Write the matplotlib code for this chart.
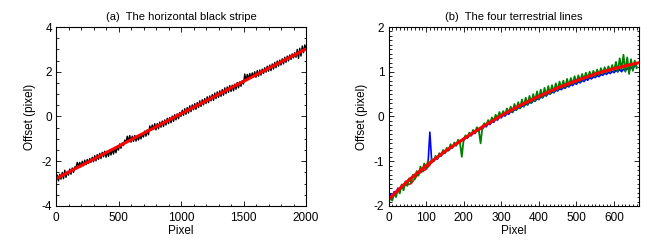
import numpy as np
import matplotlib
matplotlib.use("Agg")
import matplotlib.pyplot as plt
from matplotlib.ticker import MultipleLocator

plt.rcParams['font.family'] = ['Liberation Sans', 'DejaVu Sans']
plt.rcParams['axes.unicode_minus'] = False

# ---- Panel (a) data ----
a_step = 10
a_black = [-2.95, -2.62, -2.88, -2.58, -2.80, -2.50, -2.78, -2.40, -2.72, -2.45,
           -2.62, -2.35, -2.58, -2.30, -2.50, -2.25, -2.28, -2.05, -2.22, -2.05,
           -2.25, -2.00, -2.20, -1.95, -2.15, -1.92, -2.10, -1.88, -2.05, -1.82,
           -2.02, -1.75, -1.98, -1.70, -1.92, -1.65, -1.88, -1.60, -1.80, -1.55,
           -1.82, -1.55, -1.78, -1.50, -1.72, -1.45, -1.68, -1.42, -1.62, -1.35,
           -1.50, -1.22, -1.42, -1.18, -1.30, -1.05, -1.15, -0.88, -1.10, -0.85,
           -1.15, -0.88, -1.12, -0.85, -1.10, -0.90, -1.05, -0.85, -1.00, -0.80,
           -0.92, -0.65, -0.88, -0.60, -0.82, -0.42, -0.62, -0.38, -0.58, -0.32,
           -0.60, -0.32, -0.55, -0.25, -0.48, -0.20, -0.45, -0.15, -0.38, -0.08,
           -0.32, -0.05, -0.28, 0.02, -0.22, 0.08, -0.15, 0.12, -0.10, 0.18,
           0.00, 0.28, 0.05, 0.35, 0.10, 0.40, 0.15, 0.48, 0.22, 0.52,
           0.30, 0.58, 0.32, 0.62, 0.40, 0.70, 0.45, 0.75, 0.52, 0.80,
           0.58, 0.88, 0.62, 0.92, 0.70, 0.98, 0.72, 1.05, 0.80, 1.10,
           0.85, 1.15, 0.90, 1.20, 0.95, 1.28, 1.02, 1.32, 1.08, 1.38,
           1.12, 1.40, 1.15, 1.45, 1.22, 1.52, 1.28, 1.55, 1.35, 1.60,
           1.45, 1.90, 1.60, 1.88, 1.68, 1.92, 1.72, 1.95, 1.78, 2.00,
           1.75, 2.05, 1.80, 2.08, 1.85, 2.12, 1.92, 2.18, 1.98, 2.25,
           2.02, 2.30, 2.05, 2.35, 2.12, 2.42, 2.18, 2.48, 2.25, 2.52,
           2.30, 2.58, 2.35, 2.65, 2.42, 2.70, 2.48, 2.75, 2.55, 2.80,
           2.62, 2.85, 2.65, 3.00, 2.60, 3.05, 2.70, 3.15, 2.85, 3.20,
           3.05]
a_fit_x = [0, 2000]
a_fit_y = [-2.78, 3.02]

# ---- Panel (b) data ----
b_step = 5
b_green = [-1.95, -1.80, -1.88, -1.72, -1.80, -1.62, -1.72, -1.52, -1.65, -1.45,
           -1.55, -1.38, -1.48, -1.30, -1.40, -1.22, -1.32, -1.12, -1.22, -1.05,
           -1.15, -1.00, -1.08, -0.95, -1.00, -0.88, -0.95, -0.82, -0.88, -0.75,
           -0.82, -0.70, -0.76, -0.62, -0.70, -0.58, -0.65, -0.52, -0.58, -0.90,
           -0.50, -0.42, -0.48, -0.36, -0.42, -0.30, -0.36, -0.24, -0.30, -0.60,
           -0.22, -0.15, -0.20, -0.08, -0.15, -0.02, -0.10, 0.04, -0.04, 0.10,
           0.00, 0.12, 0.04, 0.18, 0.08, 0.22, 0.10, 0.28, 0.14, 0.32,
           0.18, 0.38, 0.22, 0.42, 0.26, 0.46, 0.30, 0.50, 0.34, 0.56,
           0.38, 0.60, 0.42, 0.64, 0.46, 0.68, 0.50, 0.70, 0.54, 0.74,
           0.58, 0.78, 0.62, 0.80, 0.64, 0.84, 0.68, 0.86, 0.72, 0.90,
           0.75, 0.92, 0.78, 0.95, 0.82, 0.98, 0.85, 1.00, 0.88, 1.02,
           0.90, 1.05, 0.92, 1.08, 0.95, 1.10, 0.98, 1.12, 1.00, 1.15,
           1.02, 1.22, 1.00, 1.30, 1.05, 1.38, 1.00, 1.32, 0.95, 1.28,
           1.02, 1.25, 1.08]
b_blue = [-1.80, -1.74, -1.79, -1.68, -1.70, -1.60, -1.63, -1.54, -1.56, -1.47,
          -1.49, -1.40, -1.42, -1.33, -1.35, -1.27, -1.28, -1.20, -1.22, -1.13,
          -1.15, -1.08, -0.35, -1.02, -1.00, -0.93, -0.95, -0.87, -0.88, -0.81,
          -0.82, -0.75, -0.76, -0.69, -0.70, -0.63, -0.65, -0.58, -0.59, -0.52,
          -0.54, -0.47, -0.48, -0.41, -0.43, -0.36, -0.38, -0.31, -0.33, -0.26,
          -0.28, -0.21, -0.23, -0.16, -0.18, -0.11, -0.13, -0.06, -0.08, -0.01,
          -0.03, 0.03, 0.01, 0.07, 0.05, 0.12, 0.09, 0.16, 0.14, 0.20,
          0.18, 0.24, 0.22, 0.28, 0.26, 0.32, 0.30, 0.36, 0.34, 0.40,
          0.38, 0.44, 0.42, 0.48, 0.46, 0.52, 0.50, 0.55, 0.53, 0.59,
          0.57, 0.62, 0.60, 0.65, 0.63, 0.69, 0.66, 0.72, 0.69, 0.75,
          0.72, 0.78, 0.75, 0.81, 0.78, 0.84, 0.81, 0.87, 0.84, 0.89,
          0.87, 0.92, 0.89, 0.94, 0.92, 0.97, 0.94, 0.99, 0.96, 1.01,
          0.98, 1.03, 1.00, 1.05, 1.00, 1.06, 1.02, 1.08, 1.03, 1.10,
          1.06, 1.14, 1.12]
b_red_step = 20
b_red = [-1.82, -1.72, -1.55, -1.50, -1.28, -1.18, -0.98, -0.86, -0.74, -0.60,
         -0.52, -0.38, -0.30, -0.17, -0.06, 0.04, 0.13, 0.20, 0.30, 0.36,
         0.46, 0.52, 0.62, 0.66, 0.76, 0.78, 0.88, 0.91, 0.99, 1.01,
         1.08, 1.10, 1.16, 1.18]
b_fit_x = [0, 50, 100, 150, 200, 250, 300, 350, 400, 450, 500, 550, 600, 650, 665]
b_fit_y = [-1.85, -1.45, -1.10, -0.78, -0.50, -0.23, 0.02, 0.25, 0.45, 0.64,
           0.80, 0.95, 1.07, 1.17, 1.20]

fig = plt.figure(figsize=(6.65, 2.4), dpi=100)
ax1 = fig.add_axes([56/665, 1-206/240, 250/665, 179/240])
ax2 = fig.add_axes([388.5/665, 1-206/240, 250/665, 179/240])

ax1.plot(np.arange(len(a_black))*a_step, a_black, color='black', lw=1.0)
ax1.plot(a_fit_x, a_fit_y, color='red', lw=2.2)
ax1.set_xlim(0, 2000)
ax1.set_ylim(-4, 4)
ax1.xaxis.set_major_locator(MultipleLocator(500))
ax1.xaxis.set_minor_locator(MultipleLocator(100))
ax1.yaxis.set_major_locator(MultipleLocator(2))
ax1.yaxis.set_minor_locator(MultipleLocator(0.5))
ax1.set_title('(a)  The horizontal black stripe', fontsize=8, pad=5)

ax2.plot(np.arange(len(b_red))*b_red_step, b_red, color='red', lw=1.2)
ax2.plot(np.arange(len(b_blue))*b_step, b_blue, color='blue', lw=1.2)
ax2.plot(np.arange(len(b_green))*b_step, b_green, color='green', lw=1.3)
ax2.plot(b_fit_x, b_fit_y, color='red', lw=2.2)
ax2.set_xlim(0, 665)
ax2.set_ylim(-2, 2)
ax2.xaxis.set_major_locator(MultipleLocator(100))
ax2.xaxis.set_minor_locator(MultipleLocator(10))
ax2.yaxis.set_major_locator(MultipleLocator(1))
ax2.yaxis.set_minor_locator(MultipleLocator(0.1))
ax2.set_title('(b)  The four terrestrial lines', fontsize=8, pad=5)

for ax in (ax1, ax2):
    ax.set_xlabel('Pixel', fontsize=8.5, labelpad=1)
    ax.set_ylabel('Offset (pixel)', fontsize=8.5, labelpad=4)
    ax.tick_params(which='both', direction='in', top=True, right=True,
                   labelsize=8.5, width=0.6)
    ax.tick_params(axis='x', which='both', pad=4)
    ax.tick_params(axis='y', which='both', pad=3)
    ax.tick_params(which='major', length=3.5)
    ax.tick_params(which='minor', length=1.8)
    for s in ax.spines.values():
        s.set_linewidth(0.8)

fig.savefig('out.png', dpi=100)
